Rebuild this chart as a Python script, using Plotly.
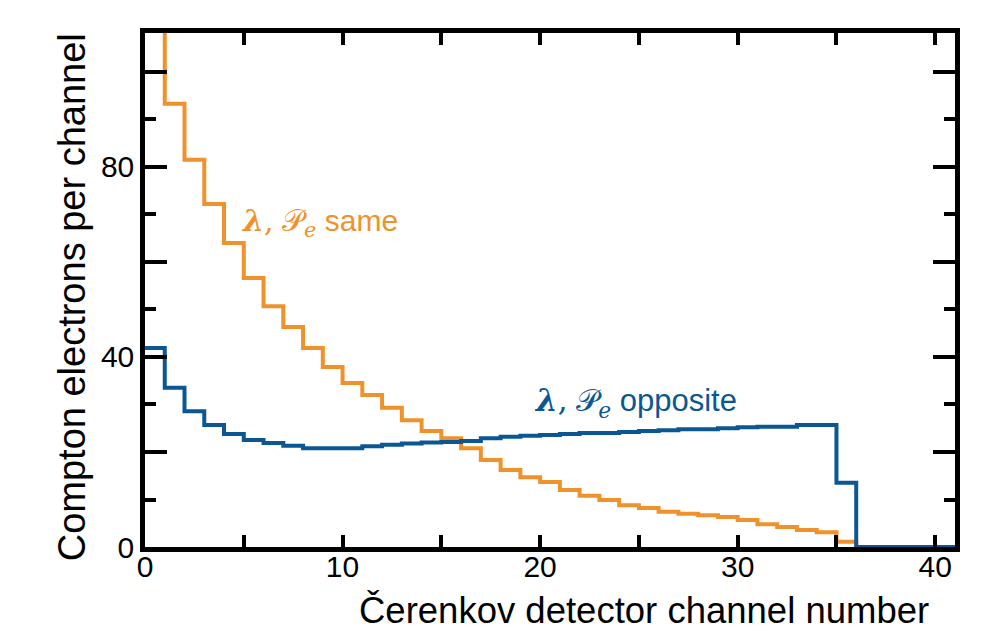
import plotly.graph_objects as go

# Bin edges (channel numbers) and counts per channel
bin_edges = list(range(0, 42))  # 0..41
same_counts = [130, 93.3, 81.5, 72.2, 64.0, 56.6, 50.7, 46.3, 41.9, 37.9,
               34.5, 32.0, 29.3, 26.7, 24.4, 22.9, 20.8, 18.3, 16.2, 14.7,
               13.7, 12.0, 10.8, 9.9, 8.8, 8.2, 7.4, 7.0, 6.7, 6.3,
               5.7, 4.8, 4.2, 3.6, 3.1, 1.1, 0, 0, 0, 0, 0]
opposite_counts = [41.9, 33.5, 28.6, 25.7, 23.8, 22.5, 21.9, 21.3, 20.8, 20.8,
                   20.8, 21.2, 21.5, 21.8, 22.0, 22.1, 22.3, 22.9, 23.2, 23.4,
                   23.6, 23.8, 24.0, 24.0, 24.2, 24.4, 24.6, 24.8, 24.8, 25.0,
                   25.2, 25.3, 25.3, 25.7, 25.7, 13.5, 0, 0, 0, 0, 0]

x_ticks = [0, 5, 10, 15, 20, 25, 30, 35, 40]
x_ticktext = ["0", "", "10", "", "20", "", "30", "", "40"]
y_ticks = [0, 20, 40, 60, 80, 100]
y_ticktext = ["0", "", "40", "", "80", ""]

ORANGE = "#F0922B"
BLUE = "#0B5794"
FONT = "Liberation Sans, Arial, Helvetica, sans-serif"

fig = go.Figure()
fig.add_trace(go.Scatter(
    x=bin_edges, y=same_counts + [same_counts[-1]],
    mode="lines", line=dict(shape="hv", color=ORANGE, width=4),
    showlegend=False, hoverinfo="skip"))
fig.add_trace(go.Scatter(
    x=bin_edges, y=opposite_counts + [opposite_counts[-1]],
    mode="lines", line=dict(shape="hv", color=BLUE, width=4),
    showlegend=False, hoverinfo="skip"))

lam = '<span style="font-family:DejaVu Serif"><b><i>λ</i></b>,</span> '
pe = '<span style="font-family:DejaVu Serif">𝒫<sub><i>e</i></sub></span>'

fig.add_annotation(x=4.75, y=68.4, xref="x", yref="y", xanchor="left",
                   yanchor="middle", showarrow=False,
                   text=lam + pe + " same",
                   font=dict(family=FONT, size=30, color=ORANGE))
fig.add_annotation(x=19.6, y=30.5, xref="x", yref="y", xanchor="left",
                   yanchor="middle", showarrow=False,
                   text=lam + pe + " opposite",
                   font=dict(family=FONT, size=31, color=BLUE))

# Axis titles
fig.add_annotation(x=0.616, y=-0.124, xref="paper", yref="paper",
                   xanchor="center", yanchor="middle", showarrow=False,
                   text="Čerenkov detector channel number",
                   font=dict(family=FONT, size=36.5, color="black"))
fig.add_annotation(x=-0.090, y=0.486, xref="paper", yref="paper",
                   xanchor="center", yanchor="middle", showarrow=False,
                   textangle=-90, text="Compton electrons per channel",
                   font=dict(family=FONT, size=38, color="black"))

fig.update_xaxes(range=[0, 41], showgrid=False, zeroline=False,
                 showline=True, linecolor="black", linewidth=4.5, mirror="ticks",
                 ticks="inside", ticklen=12, tickwidth=4, tickcolor="black",
                 tickvals=x_ticks, ticktext=x_ticktext, ticklabelstandoff=-11,
                 tickfont=dict(family=FONT, size=30, color="black"))
fig.update_yaxes(range=[0, 108.2], showgrid=False, zeroline=False,
                 showline=True, linecolor="black", linewidth=4.5, mirror="ticks",
                 ticks="inside", ticklen=22, tickwidth=4, tickcolor="black",
                 tickvals=y_ticks, ticktext=y_ticktext,
                 minor=dict(dtick=10, tick0=0, ticks="inside", ticklen=11,
                            tickwidth=4, tickcolor="black", showgrid=False),
                 tickfont=dict(family=FONT, size=30, color="black"))

fig.update_layout(width=1003, height=631,
                  margin=dict(l=145, r=48, t=33, b=84),
                  plot_bgcolor="white", paper_bgcolor="white")

fig.write_html("out.html")
